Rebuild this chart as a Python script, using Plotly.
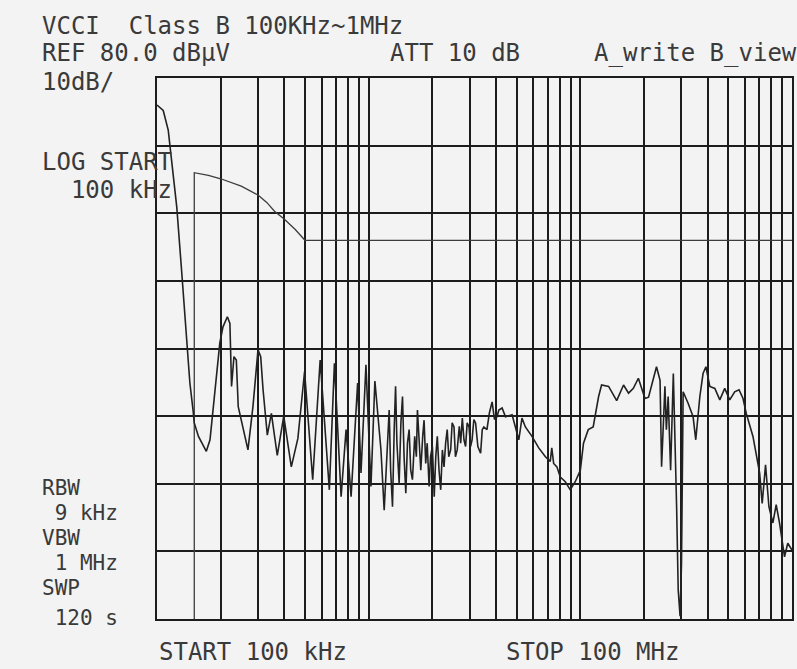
import plotly.graph_objects as go

# Measured trace A (frequency in MHz, level in dBuV)
freq_a_mhz = [
    0.100, 0.107, 0.113, 0.117, 0.124, 0.131, 0.138, 0.143, 0.148, 0.150,
    0.157, 0.171, 0.178, 0.188, 0.198, 0.205, 0.215, 0.221, 0.225, 0.231,
    0.237, 0.242, 0.252, 0.269, 0.284, 0.300, 0.309, 0.317, 0.332, 0.347,
    0.370, 0.397, 0.431, 0.463, 0.498, 0.544, 0.590, 0.652, 0.689, 0.741,
    0.782, 0.826, 0.887, 0.920, 0.971, 1.025, 1.070, 1.143, 1.184, 1.250,
    1.270, 1.296, 1.320, 1.340, 1.360, 1.393, 1.420, 1.445, 1.470, 1.498,
    1.525, 1.553, 1.580, 1.610, 1.650, 1.680, 1.700, 1.730, 1.763, 1.800,
    1.827, 1.860, 1.890, 1.930, 1.960, 2.000, 2.040, 2.075, 2.110, 2.150,
    2.190, 2.230, 2.270, 2.310, 2.350, 2.390, 2.440, 2.480, 2.530, 2.570,
    2.620, 2.680, 2.720, 2.770, 2.820, 2.870, 2.920, 2.980, 3.030, 3.080,
    3.140, 3.200, 3.280, 3.380, 3.440, 3.500, 3.620, 3.720, 3.830, 3.930,
    4.040, 4.120, 4.270, 4.430, 4.760, 5.120, 5.300, 5.500, 5.910, 6.360,
    6.840, 7.210, 7.330, 7.480, 7.750, 8.040, 8.490, 8.960, 9.460, 10.00,
    10.35, 10.90, 11.50, 12.20, 12.60, 13.60, 14.30, 14.85, 16.00, 16.90,
    17.80, 18.80, 20.20, 21.00, 22.90, 23.80, 24.20, 25.10, 25.50, 26.00,
    26.70, 27.50, 28.50, 29.00, 29.60, 30.06, 30.60, 32.30, 34.10, 35.10,
    36.70, 38.00, 39.20, 40.90, 43.20, 45.60, 48.10, 50.80, 53.60, 56.20,
    58.70, 60.80, 65.40, 70.30, 72.30, 75.00, 77.80, 81.20, 84.20, 87.30,
    92.20, 95.50, 100.0,
]
level_a_dbuv = [
    76.0, 75.2, 72.3, 68.3, 60.9, 51.1, 41.3, 34.9, 30.9, 29.0,
    27.0, 24.8, 26.5, 33.9, 40.8, 43.2, 44.7, 43.7, 34.4, 38.8,
    38.3, 31.4, 29.0, 25.0, 31.4, 39.8, 38.8, 33.9, 27.2, 30.4,
    24.2, 30.0, 22.5, 26.7, 36.6, 20.6, 38.3, 19.1, 37.8, 18.1,
    28.0, 18.1, 34.9, 21.6, 37.6, 19.6, 35.2, 25.0, 16.1, 30.9,
    22.0, 16.6, 28.0, 34.4, 26.0, 20.1, 29.0, 32.9, 24.0, 18.6,
    26.0, 28.0, 22.0, 20.6, 27.0, 24.0, 30.9, 26.0, 22.0, 27.0,
    29.4, 23.0, 26.0, 19.6, 24.0, 25.5, 18.1, 24.0, 27.0, 22.0,
    19.1, 25.0, 22.5, 26.0, 28.0, 24.0, 25.0, 29.0, 28.4, 24.0,
    25.0, 28.5, 26.0, 29.7, 26.5, 25.5, 29.0, 28.4, 25.5, 26.5,
    29.5, 29.0, 25.5, 24.5, 28.0, 28.4, 28.0, 30.5, 32.1, 29.5,
    29.9, 30.9, 31.2, 29.9, 30.2, 26.5, 29.7, 28.4, 27.0, 25.3,
    24.0, 23.3, 25.3, 23.0, 22.5, 21.0, 20.3, 19.1, 20.3, 22.0,
    26.0, 28.0, 28.4, 32.9, 34.6, 34.4, 33.2, 32.3, 34.6, 33.4,
    34.1, 35.6, 32.6, 32.8, 37.3, 35.3, 22.5, 34.4, 28.0, 32.9,
    22.0, 36.3, 16.6, 4.3, 0.4, 8.3, 33.6, 31.9, 29.9, 26.5,
    32.9, 36.3, 37.3, 34.4, 34.1, 32.4, 34.1, 32.4, 33.6, 33.9,
    32.6, 30.4, 27.0, 21.6, 17.1, 22.8, 16.6, 14.2, 16.9, 14.2,
    9.2, 11.2, 10.2,
]

# Limit line B (VCCI Class B)
freq_b_mhz = [0.150, 0.150, 0.175, 0.200, 0.250, 0.300, 0.330, 0.359, 0.400, 0.450, 0.500, 100.0]
level_b_dbuv = [0.0, 66.0, 65.6, 65.1, 64.0, 62.7, 61.6, 60.3, 59.1, 57.6, 56.0, 56.0]

# Header / side texts
header_texts = ["VCCI\u00a0\u00a0Class B 100KHz~1MHz", "REF 80.0 dB\u03bcV", "ATT 10 dB",
                "A_write B_view", "10dB/"]
side_texts = ["LOG START", "\u00a0\u00a0100 kHz", "RBW", "\u00a09 kHz", "VBW",
              "\u00a01 MHz", "SWP", "\u00a0120 s"]
footer_texts = ["START 100 kHz", "STOP 100 MHz"]

W, H = 797, 669
L, R, T, B = 157, 3, 78, 50
pw, ph = W - L - R, H - T - B

def px(x):
    return (x - L) / pw

def py(y):
    return (H - B - y) / ph

ink = "#1c1c1c"
txt = "#3a3a3a"
bg = "#f3f3f3"
font = dict(family="DejaVu Sans Mono", size=24, color=txt)
font_small = dict(family="DejaVu Sans Mono", size=21, color=txt)

fig = go.Figure()
fig.add_trace(go.Scatter(x=[f * 1e6 for f in freq_b_mhz], y=level_b_dbuv, mode="lines",
                         line=dict(color="#3c3c3c", width=1.3), hoverinfo="skip"))
fig.add_trace(go.Scatter(x=[f * 1e6 for f in freq_a_mhz], y=level_a_dbuv, mode="lines",
                         line=dict(color="#222222", width=1.6), hoverinfo="skip"))

text_pos = [
    (header_texts[0], 40, 26, font), (header_texts[1], 40, 53, font),
    (header_texts[2], 389, 53, font), (header_texts[3], 593, 53, font),
    (header_texts[4], 40, 82, font),
    (side_texts[0], 40, 162, font), (side_texts[1], 40, 190, font),
    (side_texts[2], 40, 488, font_small), (side_texts[3], 40, 513, font_small),
    (side_texts[4], 40, 538, font_small), (side_texts[5], 40, 563, font_small),
    (side_texts[6], 40, 588, font_small), (side_texts[7], 40, 618, font_small),
    (footer_texts[0], 157, 652, font), (footer_texts[1], 505, 652, font),
]
annotations = [dict(text=t, x=px(x), y=py(y), xref="paper", yref="paper",
                    xanchor="left", yanchor="middle", showarrow=False, font=f)
               for t, x, y, f in text_pos]

fig.update_layout(
    width=W, height=H, margin=dict(l=L, r=R, t=T, b=B, pad=0),
    paper_bgcolor=bg, plot_bgcolor=bg, showlegend=False,
    annotations=annotations,
    xaxis=dict(type="log", range=[5, 8], dtick="D1", showticklabels=False, ticks="",
               showgrid=True, gridcolor=ink, gridwidth=2, zeroline=False,
               showline=True, mirror=True, linecolor=ink, linewidth=2),
    yaxis=dict(range=[0, 80], dtick=10, showticklabels=False, ticks="",
               showgrid=True, gridcolor=ink, gridwidth=2, zeroline=False,
               showline=True, mirror=True, linecolor=ink, linewidth=2),
)

fig.write_html("out.html")
